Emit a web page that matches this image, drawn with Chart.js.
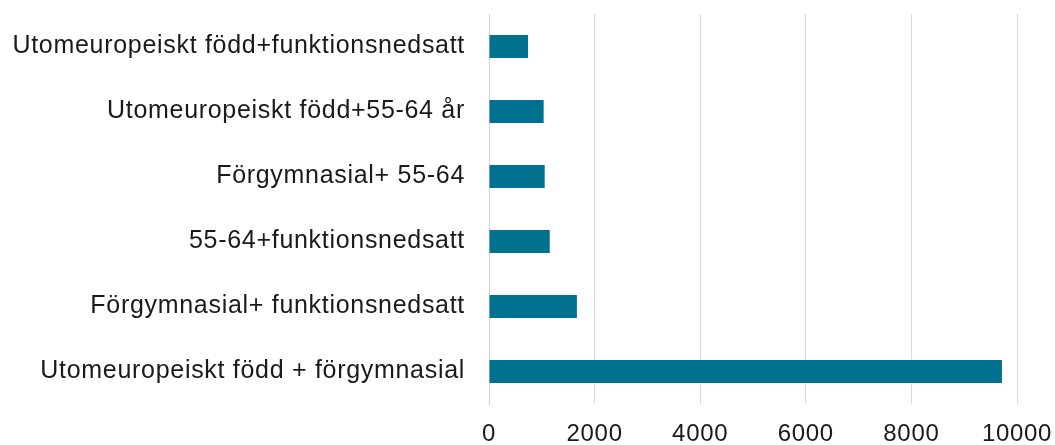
<!DOCTYPE html>
<html>
<head>
<meta charset="utf-8">
<script src="https://cdn.jsdelivr.net/npm/chart.js@4"></script>
<style>
  html, body { margin: 0; padding: 0; background: #fff; }
  #wrap { width: 1055px; height: 445px; }
</style>
</head>
<body>
<div id="wrap"><canvas id="myChart" width="1055" height="445"></canvas></div>
<script>
const categories = [
    "Utomeuropeiskt född+funktionsnedsatt",
    "Utomeuropeiskt född+55-64 år",
    "Förgymnasial+ 55-64",
    "55-64+funktionsnedsatt",
    "Förgymnasial+ funktionsnedsatt",
    "Utomeuropeiskt född + förgymnasial"
];
const values = [740, 1035, 1055, 1150, 1665, 9715];
const xTicks = [0, 2000, 4000, 6000, 8000, 10000];

// a bit of letter spacing, the original labels are spread out
const spacing = {
    id: "spacing",
    beforeDraw: (chart) => { chart.ctx.letterSpacing = "0.7px"; },
    afterDraw: (chart) => { chart.ctx.letterSpacing = "0px"; }
};

const ctx = document.getElementById("myChart").getContext("2d");
new Chart(ctx, {
    type: "bar",
    data: {
        labels: categories,
        datasets: [{
            data: values,
            backgroundColor: "#00728F",
            borderWidth: 0,
            categoryPercentage: 1,
            barPercentage: 0.355
        }]
    },
    options: {
        indexAxis: "y",
        responsive: false,
        animation: false,
        layout: { padding: { top: 14, right: 38, left: 0, bottom: 0 } },
        plugins: {
            legend: { display: false },
            tooltip: { enabled: false }
        },
        scales: {
            x: {
                min: 0,
                max: 10000,
                afterBuildTicks: (scale) => {
                    scale.ticks = xTicks.map(v => ({ value: v }));
                },
                afterFit: (scale) => {
                    scale.height = 41;
                    scale.paddingLeft = 0;
                    scale.paddingRight = 0;
                },
                grid: { color: "#d9d9d9", lineWidth: 1, drawTicks: false },
                border: { display: false },
                ticks: {
                    padding: 16,
                    color: "#1a1a1a",
                    font: { family: "'Liberation Sans', Arial, sans-serif", size: 24 },
                    callback: (v) => String(v)
                }
            },
            y: {
                afterFit: (scale) => {
                    scale.width = 489;
                    scale.paddingTop = 0;
                    scale.paddingBottom = 0;
                },
                grid: { display: false, drawTicks: false },
                border: { display: true, color: "#d0d0d0", width: 1 },
                ticks: {
                    padding: 24,
                    color: "#1a1a1a",
                    font: { family: "'Liberation Sans', Arial, sans-serif", size: 25 }
                }
            }
        }
    },
    plugins: [spacing]
});
</script>
</body>
</html>
